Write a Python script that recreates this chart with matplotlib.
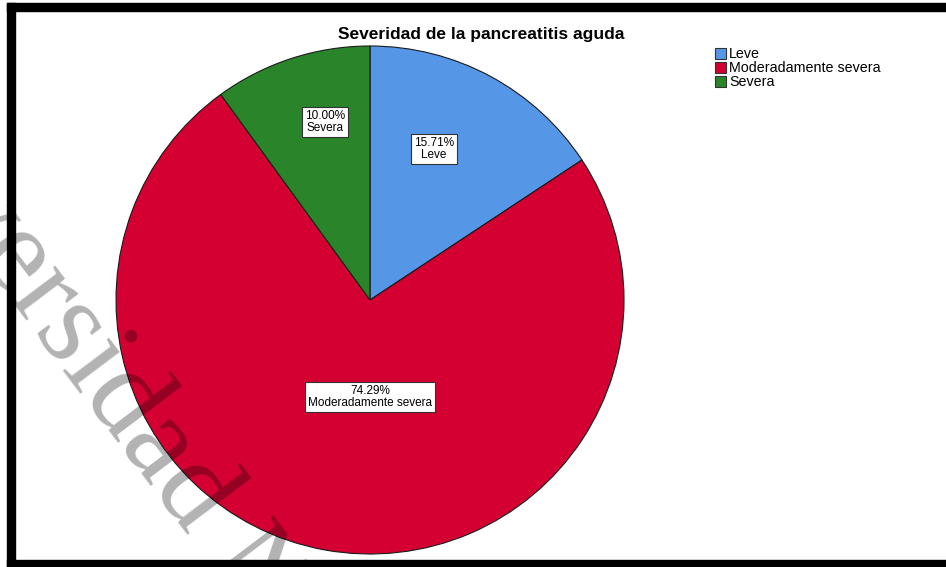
import matplotlib
matplotlib.use("Agg")
import matplotlib.pyplot as plt
from matplotlib.patches import Patch, Rectangle

plt.rcParams['font.family'] = ['Liberation Sans', 'DejaVu Sans']

# data
categories = ["Leve", "Moderadamente severa", "Severa"]
percentages = [15.71, 74.29, 10.00]
colors = ["#5597e6", "#d50032", "#2a852a"]
title = "Severidad de la pancreatitis aguda"

W, H = 946, 567
fig = plt.figure(figsize=(W / 100, H / 100), dpi=100)
ax = fig.add_axes([0, 0, 1, 1])

# pie, pixel coords with y going up
cx, cy, R = 370, H - 300, 254
wedges, _ = ax.pie(percentages, colors=colors, startangle=90, counterclock=False,
                   center=(cx, cy), radius=R, frame=True,
                   wedgeprops=dict(edgecolor="#1a1a1a", linewidth=0.8))
ax.set_xlim(0, W)
ax.set_ylim(0, H)
ax.axis("off")

# label boxes (pixel positions from the picture)
label_pos = [(434, H - 149), (370, H - 397), (325, H - 122)]
for cat, pct, (lx, ly) in zip(categories, percentages, label_pos):
    ax.text(lx, ly, f"{pct:.2f}%\n{cat}", ha="center", va="center", fontsize=8.5,
            linespacing=0.95,
            bbox=dict(boxstyle="square,pad=0.25", fc="white", ec="#333333", lw=0.8))

ax.text(481, H - 35, title, ha="center", va="center", fontsize=12.5, fontweight="bold")

handles = [Patch(facecolor=c, edgecolor="#333333", linewidth=0.8) for c in colors]
fig.legend(handles, categories, loc="upper left", bbox_to_anchor=(715 / W, 1 - 47 / H),
           frameon=False, fontsize=10.3, handlelength=0.8, handleheight=0.8,
           handletextpad=0.2, labelspacing=0.0, borderaxespad=0, borderpad=0)

# watermark
ax.text(-172, H - 58, "Universidad Nacional", family="Liberation Serif", fontsize=88,
        rotation=-53, rotation_mode="anchor", ha="left", va="baseline",
        color="black", alpha=0.3, zorder=5, clip_on=False)

# black frame
for (x0, y0, w, h) in [(7, H - 11, W - 7, 8), (7, 0, 8, H - 3), (7, 0, W - 7, 7)]:
    fig.add_artist(Rectangle((x0 / W, y0 / H), w / W, h / H, transform=fig.transFigure,
                             color="black", zorder=10))

fig.savefig("out.png", dpi=100)
